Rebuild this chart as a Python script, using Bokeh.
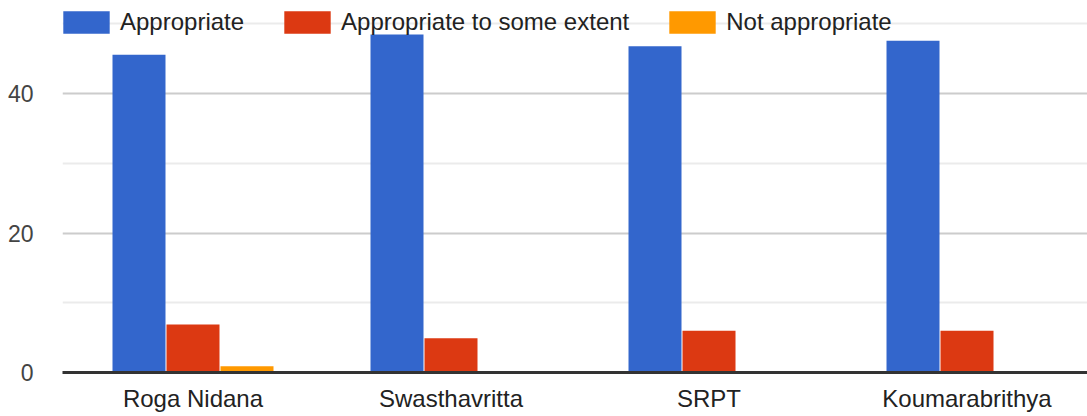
from bokeh.plotting import figure
from bokeh.models import (ColumnDataSource, Range1d, FixedTicker, Legend, LegendItem)
from bokeh.transform import dodge
from bokeh.embed import file_html
from bokeh.resources import INLINE

categories = ["Roga Nidana", "Swasthavritta", "SRPT", "Koumarabrithya"]
appropriate = [45.6, 48.5, 46.8, 47.6]
some_extent = [6.9, 4.9, 6.0, 6.0]
not_appropriate = [0.9, 0, 0, 0]
series_names = ["Appropriate", "Appropriate to some extent", "Not appropriate"]
colors = ["#3366cc", "#dc3912", "#ff9900"]
y_ticks = [0, 20, 40]
y_minor = [10, 30, 50]

pos = list(range(len(categories)))
src = ColumnDataSource(dict(x=pos, a=appropriate, s=some_extent, n=not_appropriate))

p = figure(width=1087, height=416, output_backend="svg", toolbar_location=None,
           x_range=Range1d(-0.5058, 3.467), y_range=Range1d(0, 53.37),
           min_border_left=62, min_border_right=0, min_border_top=0, min_border_bottom=44)
p.outline_line_color = None

pitch = 54 / 258
bw = 53 / 258
rs = []
for off, col, c in zip([-pitch, 0, pitch], ["a", "s", "n"], colors):
    r = p.vbar(x=dodge("x", off, range=p.x_range), top=col, bottom=0, width=bw,
               source=src, fill_color=c, line_color=None)
    rs.append(r)

# axes
p.xaxis.ticker = FixedTicker(ticks=pos)
p.xaxis.major_label_overrides = {float(i): c for i, c in zip(pos, categories)}
p.xaxis.axis_line_color = "#333333"
p.xaxis.axis_line_width = 3
p.xaxis.major_tick_line_color = None
p.xaxis.minor_tick_line_color = None
p.xaxis.major_tick_out = 0
p.xaxis.major_label_standoff = 12
p.xaxis.major_label_text_font = "Liberation Sans"
p.xaxis.major_label_text_font_size = "24px"
p.xaxis.major_label_text_line_height = 1.0
p.xaxis.major_label_text_color = "#222222"

p.yaxis.ticker = FixedTicker(ticks=y_ticks, minor_ticks=y_minor)
p.yaxis.axis_line_color = None
p.yaxis.major_tick_line_color = None
p.yaxis.minor_tick_line_color = None
p.yaxis.major_tick_out = 0
p.yaxis.major_label_standoff = 25
p.yaxis.major_label_text_font = "Liberation Sans"
p.yaxis.major_label_text_font_size = "23px"
p.yaxis.major_label_text_color = "#444444"

p.xgrid.grid_line_color = None
p.ygrid.ticker = FixedTicker(ticks=[t for t in y_ticks if t != 0], minor_ticks=y_minor)
p.ygrid.grid_line_color = "#cccccc"
p.ygrid.grid_line_width = 2
p.ygrid.minor_grid_line_color = "#ebebeb"
p.ygrid.minor_grid_line_width = 2

legend = Legend(items=[LegendItem(label=n, renderers=[r]) for n, r in zip(series_names, rs)],
                orientation="horizontal", location=(-5, 336),
                glyph_width=58, glyph_height=28, label_standoff=5, spacing=34,
                padding=0, margin=0, border_line_alpha=0, background_fill_alpha=0,
                label_text_font="Liberation Sans", label_text_font_size="24px",
                label_text_color="#222222", label_height=28)
p.add_layout(legend, "center")

open("out.html", "w").write(file_html(p, INLINE))
